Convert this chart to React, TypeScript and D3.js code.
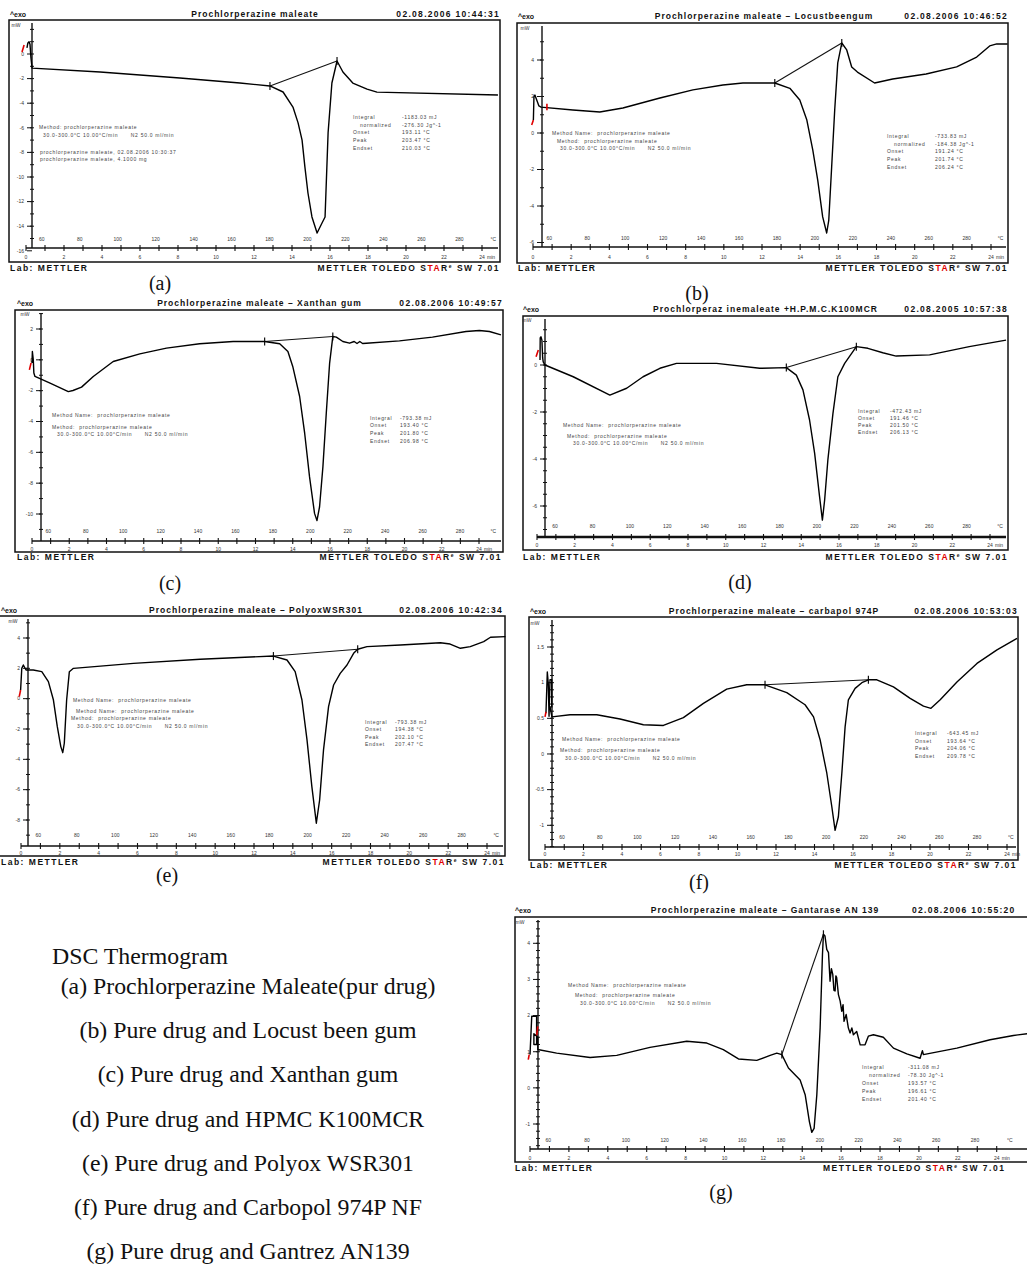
import React from "react";
import * as d3 from "d3";

type P = [number, number];

// ---------------- DATA (time in min, heat flow in mW) ----------------
const panelTags = ["(a)", "(b)", "(c)", "(d)", "(e)", "(f)", "(g)"];
const panelTitles = [
  "Prochlorperazine maleate",
  "Prochlorperazine maleate \u2013 Locustbeengum",
  "Prochlorperazine maleate \u2013 Xanthan gum",
  "Prochlorperaz inemaleate +H.P.M.C.K100MCR",
  "Prochlorperazine maleate \u2013 PolyoxWSR301",
  "Prochlorperazine maleate \u2013 carbapol 974P",
  "Prochlorperazine maleate \u2013 Gantarase AN 139",
];
const panelDates = [
  "02.08.2006 10:44:31",
  "02.08.2006 10:46:52",
  "02.08.2006 10:49:57",
  "02.08.2005 10:57:38",
  "02.08.2006 10:42:34",
  "02.08.2006 10:53:03",
  "02.08.2006 10:55:20",
];

const tempLabels = [60, 80, 100, 120, 140, 160, 180, 200, 220, 240, 260, 280];
const timeLabels = [0, 2, 4, 6, 8, 10, 12, 14, 16, 18, 20, 22, 24];

const yTicksA = [0, -2, -4, -6, -8, -10, -12, -14, -16];
const yTicksB = [4, 2, 0, -2, -4, -6];
const yTicksC = [2, 0, -2, -4, -6, -8, -10];
const yTicksD = [0, -2, -4, -6];
const yTicksE = [4, 2, 0, -2, -4, -6, -8];
const yTicksF = [1.5, 1, 0.5, 0, -0.5, -1];
const yTicksG = [4, 3, 2, 1, 0, -1];

const curveA: P[] = [
  [0.05, 0.5], [0.1, 0.9], [0.16, 1.0], [0.21, 0.8], [0.26, -0.3], [0.32, -1.15],
  [3.9, -1.46], [8.1, -1.95], [11.26, -2.36], [12.84, -2.6], [13.53, -3.09],
  [14.05, -4.31], [14.32, -5.6], [14.53, -7.0], [14.68, -9.2], [14.84, -11.3],
  [15.05, -13.25], [15.32, -14.55], [15.58, -13.74], [15.74, -13.25], [15.9, -6.4],
  [16.1, -2.36], [16.37, -0.57], [16.68, -1.46], [17.2, -2.36], [17.95, -2.85],
  [18.47, -3.1], [24.84, -3.33],
];
const redA: P[] = [[-0.21, 0.16], [-0.1, 0.73]];
const integA: P[] = [[12.84, -2.6], [16.37, -0.57]];

const curveB: P[] = [
  [0.02, 0.71], [0.05, 2.0], [0.1, 2.08], [0.2, 1.8], [0.31, 1.48], [0.42, 1.42],
  [2.09, 1.26], [3.5, 1.15], [4.71, 1.37], [6.65, 1.92], [8.38, 2.36], [9.95, 2.63],
  [11.0, 2.74], [12.67, 2.74], [13.46, 2.45], [13.98, 1.81], [14.35, 0.71],
  [14.66, -0.93], [14.92, -2.58], [15.18, -4.6], [15.39, -5.48], [15.5, -4.77],
  [15.65, -1.86], [15.81, 1.26], [15.97, 3.84], [16.18, 4.93], [16.44, 4.55],
  [16.7, 3.62], [17.0, 3.34], [17.9, 2.74], [18.85, 2.96], [20.6, 3.23], [22.2, 3.62],
  [23.25, 4.16], [23.93, 4.77], [24.3, 4.88], [24.87, 4.88],
];
const redB: P[] = [[-0.07, 0.44], [0.02, 0.71]];
const redB2: P[] = [[0.73, 1.25], [0.73, 1.6]];
const integB: P[] = [[12.67, 2.74], [16.18, 4.93]];

const curveC: P[] = [
  [0, -0.21], [0.02, 0.54], [0.07, 0], [0.1, -0.86], [0.16, -1.08], [0.97, -1.51],
  [1.95, -2.06], [2.2, -1.99], [2.66, -1.77], [3.29, -1.08], [4.36, -0.11],
  [5.79, 0.39], [7.22, 0.76], [9.0, 1.04], [10.8, 1.19], [12.49, 1.19], [13.3, 1.04],
  [13.74, 0.54], [14.0, -0.43], [14.37, -2.38], [14.64, -4.76], [14.9, -7.58],
  [15.17, -9.96], [15.3, -10.43], [15.44, -9.53], [15.62, -6.93], [15.8, -3.46],
  [15.98, -0.21], [16.15, 1.51], [16.34, 1.47], [16.69, 1.19], [17.05, 1.08],
  [17.3, 1.19], [17.45, 1.06], [17.6, 1.19], [17.75, 1.06], [17.95, 1.08],
  [19.73, 1.23], [21.5, 1.47], [23.3, 1.84], [24.02, 1.9], [24.56, 1.84], [25.18, 1.62],
];
const redC: P[] = [[-0.14, -0.65], [-0.05, -0.2]];
const integC: P[] = [[12.49, 1.19], [16.15, 1.51]];

const curveD: P[] = [
  [0.16, 0.21], [0.17, 1.15], [0.21, 1.2], [0.26, 1.06], [0.3, 0.3], [0.33, 0.13],
  [0.42, 0], [1.92, -0.5], [3.86, -1.28], [4.75, -0.99], [5.62, -0.5], [6.51, -0.14],
  [7.39, 0.07], [9.51, 0.07], [11.8, -0.14], [13.21, -0.11], [13.74, -0.43],
  [14.09, -1.06], [14.44, -2.34], [14.71, -3.76], [14.97, -5.6], [15.12, -6.6],
  [15.24, -5.74], [15.41, -4.04], [15.68, -2.06], [15.94, -0.5], [16.3, 0.07],
  [16.92, 0.78], [17.53, 0.71], [18.32, 0.52], [19.03, 0.38], [20.8, 0.43],
  [22.9, 0.78], [24.85, 1.06],
];
const redD: P[] = [[-0.05, 0.35], [0.07, 0.64]];
const integD: P[] = [[13.21, -0.11], [16.92, 0.78]];

const curveE: P[] = [
  [-0.02, 0.57], [0.04, 2.0], [0.12, 2.22], [0.26, 1.89], [0.63, 1.89], [1.07, 1.78],
  [1.41, 1.12], [1.67, -0.09], [1.87, -1.85], [2.05, -3.16], [2.15, -3.56],
  [2.23, -2.94], [2.35, -0.09], [2.49, 1.78], [2.7, 2.0], [5.79, 2.33], [9.23, 2.6],
  [13.0, 2.81], [13.7, 2.55], [14.12, 1.78], [14.47, -0.09], [14.73, -2.72],
  [14.98, -5.8], [15.21, -8.21], [15.38, -6.68], [15.58, -3.38], [15.84, -0.53],
  [16.1, 0.9], [16.44, 1.67], [16.79, 2.22], [17.13, 2.99], [17.34, 3.26],
  [17.82, 3.43], [19.54, 3.54], [21.6, 3.69], [22.1, 3.6], [22.63, 3.32],
  [23.14, 3.43], [23.83, 3.76], [24.18, 4.05], [24.95, 4.09],
];
const redE: P[] = [[-0.09, 0.13], [-0.02, 0.57]];
const integE: P[] = [[13.0, 2.81], [17.34, 3.26]];

const curveF: P[] = [
  [0.05, 0.57], [0.12, 1.15], [0.17, 0.99], [0.21, 0.53], [0.26, 1.04], [0.35, 1.04],
  [0.35, 0.66], [0.26, 0.66], [0.36, 0.52], [1.3, 0.55], [2.69, 0.55], [3.9, 0.49],
  [5.11, 0.41], [6.15, 0.4], [7.19, 0.51], [8.23, 0.71], [9.44, 0.91], [10.48, 0.97],
  [11.43, 0.97], [12.56, 0.86], [13.51, 0.69], [13.95, 0.52], [14.29, 0.2],
  [14.64, -0.27], [14.9, -0.74], [15.07, -1.07], [15.24, -0.88], [15.42, -0.27],
  [15.59, 0.38], [15.76, 0.76], [16.11, 0.92], [16.46, 1.0], [16.8, 1.04],
  [17.24, 1.04], [18.1, 0.94], [18.97, 0.78], [19.66, 0.67], [20.05, 0.64],
  [20.53, 0.76], [21.4, 1.01], [22.44, 1.27], [23.48, 1.46], [24.52, 1.62],
];
const redF: P[] = [[0, 0.52], [0.05, 0.59]];
const integF: P[] = [[11.43, 0.97], [16.8, 1.04]];

const curveG: P[] = [
  [0, 0.92], [0.09, 1.98], [0.34, 1.98], [0.34, 1.2], [0.2, 1.2], [0.2, 1.5],
  [0.4, 1.4], [0.4, 1.06], [1.37, 0.96], [3.09, 0.84], [4.46, 0.9], [6.17, 1.12],
  [8.06, 1.29], [9.09, 1.24], [9.94, 1.06], [10.72, 0.8], [11.66, 0.76], [12.35, 0.9],
  [12.69, 0.96], [12.95, 0.92], [13.29, 0.55], [13.89, 0.22], [14.15, -0.19],
  [14.37, -0.94], [14.49, -1.23], [14.61, -1.12], [14.75, -0.19], [14.92, 1.66],
  [15.04, 3.69], [15.09, 4.25], [15.17, 4.2], [15.26, 3.83], [15.35, 3.74],
  [15.43, 2.95], [15.5, 3.3], [15.57, 3.14], [15.63, 2.7], [15.69, 2.68],
  [15.73, 3.1], [15.77, 3.05], [15.86, 2.58], [15.95, 2.4], [16.03, 2.12],
  [16.1, 2.3], [16.15, 1.84], [16.26, 2.03], [16.37, 1.66], [16.46, 1.52],
  [16.55, 1.66], [16.63, 1.47], [16.8, 1.56], [16.98, 1.19], [17.23, 1.19],
  [17.4, 1.43], [17.66, 1.47], [18.17, 1.4], [18.69, 1.1], [19.38, 0.94],
  [20.06, 0.82], [20.18, 1.03], [20.23, 0.92], [21.95, 1.1], [23.66, 1.33],
  [24.86, 1.45], [25.6, 1.5],
];
const redG: P[] = [[-0.09, 0.78], [-0.04, 0.92]];
const redG2: P[] = [[0.34, 1.45], [0.4, 1.7]];
const integG: P[] = [[12.95, 0.92], [15.09, 4.25]];

const methodA = [
  "Method: prochlorperazine maleate",
  "30.0-300.0\u00b0C 10.00\u00b0C/min      N2 50.0 ml/min",
  "prochlorperazine maleate, 02.08.2006 10:30:37",
  "prochlorperazine maleate, 4.1000 mg",
];
const methodStd = [
  "Method Name:  prochlorperazine maleate",
  "Method:  prochlorperazine maleate",
  "30.0-300.0\u00b0C 10.00\u00b0C/min      N2 50.0 ml/min",
];
const methodE = [
  "Method Name:  prochlorperazine maleate",
  "Method Name:  prochlorperazine maleate",
  "Method:  prochlorperazine maleate",
  "30.0-300.0\u00b0C 10.00\u00b0C/min      N2 50.0 ml/min",
];

const resultsA = [["Integral", "-1183.03 mJ"], [" normalized", "-276.30 Jg^-1"], ["Onset", "193.11 \u00b0C"], ["Peak", "203.47 \u00b0C"], ["Endset", "210.03 \u00b0C"]];
const resultsB = [["Integral", "-733.83 mJ"], [" normalized", "-184.38 Jg^-1"], ["Onset", "191.24 \u00b0C"], ["Peak", "201.74 \u00b0C"], ["Endset", "206.24 \u00b0C"]];
const resultsC = [["Integral", "-793.38 mJ"], ["Onset", "193.40 \u00b0C"], ["Peak", "201.80 \u00b0C"], ["Endset", "206.98 \u00b0C"]];
const resultsD = [["Integral", "-472.43 mJ"], ["Onset", "191.46 \u00b0C"], ["Peak", "201.50 \u00b0C"], ["Endset", "206.13 \u00b0C"]];
const resultsE = [["Integral", "-793.38 mJ"], ["Onset", "194.38 \u00b0C"], ["Peak", "202.10 \u00b0C"], ["Endset", "207.47 \u00b0C"]];
const resultsF = [["Integral", "-643.45 mJ"], ["Onset", "193.64 \u00b0C"], ["Peak", "204.06 \u00b0C"], ["Endset", "209.78 \u00b0C"]];
const resultsG = [["Integral", "-311.08 mJ"], [" normalized", "-78.30 Jg^-1"], ["Onset", "193.57 \u00b0C"], ["Peak", "196.61 \u00b0C"], ["Endset", "201.40 \u00b0C"]];

const legendTitle = "DSC Thermogram";
const legendItems = [
  "(a) Prochlorperazine Maleate(pur drug)",
  "(b) Pure drug and Locust been gum",
  "(c) Pure drug and Xanthan gum",
  "(d) Pure drug and HPMC K100MCR",
  "(e) Pure drug and Polyox WSR301",
  "(f) Pure drug and Carbopol 974P NF",
  "(g) Pure drug and Gantrez AN139",
];

// ---------------- LAYOUT ----------------
const FONT = "'Liberation Sans', Arial, sans-serif";
const SERIF = "'Liberation Serif', 'Times New Roman', serif";

const layouts: any[] = [
  { frame: [9, 20, 500, 262], yAxisX: 32, yAxisTop: 23, xAxisY: 248, tRange: [26, 482], vDomain: [0, -16], vRange: [54, 250.8], minor: 1,
    tempRange: [41.7, 459.3], tempY: 239, timeY: 257, mW: [16, 25], title: [255, 14], date: [500, 14], exo: [10, 14],
    lab: [10, 268], mettler: [500, 268], tag: [160, 283],
    method: [[39, 127], [43, 135], [40, 152], [40, 159]], res: { lx: 353, vx: 402, y0: 117, dy: 7.8 } },
  { frame: [517, 23, 1008, 263], yAxisX: 542, yAxisTop: 26, xAxisY: 247, tRange: [533, 991], vDomain: [0, -6], vRange: [133, 242.5], minor: 1,
    tempRange: [549.3, 966.7], tempY: 238, timeY: 257, mW: [525, 28], title: [764, 16], date: [1008, 16], exo: [518, 16],
    lab: [518, 268], mettler: [1008, 268], tag: [697, 293],
    method: [[552, 133], [557, 141], [560, 148]], res: { lx: 887, vx: 935, y0: 136, dy: 7.7 } },
  { frame: [15, 310, 503, 552], yAxisX: 41, yAxisTop: 313, xAxisY: 541, tRange: [32, 479], vDomain: [2, -10], vRange: [329, 514], minor: 1,
    tempRange: [48.3, 460], tempY: 531, timeY: 549, mW: [25, 314], title: [259.5, 303], date: [503, 303], exo: [17, 303],
    lab: [17, 557], mettler: [502, 557], tag: [170, 583],
    method: [[52, 415], [52, 427], [57, 434]], res: { lx: 370, vx: 400, y0: 418, dy: 7.6 } },
  { frame: [523, 316, 1008, 550], yAxisX: 545, yAxisTop: 319, xAxisY: 537, tRange: [537, 990], vDomain: [0, -6], vRange: [365, 506], minor: 0.5,
    tempRange: [555, 966.7], tempY: 526, timeY: 545, mW: [527, 320], title: [765.5, 309], date: [1008, 309], exo: [523, 309],
    lab: [523, 557], mettler: [1008, 557], tag: [740, 582], thick: true,
    method: [[563, 425], [567, 436], [573, 443]], res: { lx: 858, vx: 890, y0: 411, dy: 7 } },
  { frame: [-1, 616, 505, 856], yAxisX: 28, yAxisTop: 619, xAxisY: 846, tRange: [21, 487], vDomain: [4, -8], vRange: [638, 820], minor: 1,
    tempRange: [38.3, 461.7], tempY: 835, timeY: 853, mW: [13, 621], title: [256, 610], date: [503, 610], exo: [1, 610],
    lab: [1, 862], mettler: [505, 862], tag: [167, 875],
    method: [[73, 700], [76, 711], [71, 718], [77, 726]], res: { lx: 365, vx: 395, y0: 722, dy: 7.4 } },
  { frame: [529, 617, 1018, 860], yAxisX: 552, yAxisTop: 620, xAxisY: 847, tRange: [545, 1007], vDomain: [1.5, -1], vRange: [647, 825.3], minor: 0.1,
    tempRange: [562, 977], tempY: 837, timeY: 854, mW: [535, 623], title: [774, 611], date: [1018, 611], exo: [530, 611],
    lab: [530, 865], mettler: [1017, 865], tag: [699, 882],
    method: [[562, 739], [560, 750], [565, 758]], res: { lx: 915, vx: 947, y0: 733, dy: 7.7 } },
  { frame: [515, 917, 1040, 1162], yAxisX: 538, yAxisTop: 920, xAxisY: 1149, tRange: [530, 996.7], vDomain: [4, -1], vRange: [943.3, 1124], minor: 0.2,
    tempRange: [548.3, 975], tempY: 1140, timeY: 1158, mW: [520, 922], title: [765, 910], date: [912, 910], dateAnchor: "start", exo: [515, 910],
    lab: [515, 1168], mettler: [823, 1168], mettlerAnchor: "start", tag: [721, 1192],
    method: [[568, 985], [575, 995], [580, 1003]], res: { lx: 862, vx: 908, y0: 1067, dy: 8 } },
];

const legendLayout = { titleX: 52, titleY: 964, cx: 248, y0: 994, dy: 44.2, size: 23.8 };

// ---------------- COMPONENTS ----------------
type PanelProps = {
  L: any; curve: P[]; reds: P[][]; integ: P[]; yTicks: number[];
  title: string; date: string; tag: string; method: string[]; results: string[][];
};

function Panel({ L, curve, reds, integ, yTicks, title, date, tag, method, results }: PanelProps) {
  const x = d3.scaleLinear().domain([0, 24]).range(L.tRange);
  const y = d3.scaleLinear().domain(L.vDomain).range(L.vRange);
  const tx = d3.scaleLinear().domain([60, 280]).range(L.tempRange);
  const line = d3.line<P>().x((p) => x(p[0])).y((p) => y(p[1]));
  const [fx0, fy0, fx1, fy1] = L.frame;
  const vBottom = y.invert(L.xAxisY);
  const vTop = y.invert(L.yAxisTop);
  const st = L.minor;
  const minorTicks = d3
    .range(Math.ceil(vBottom / st - 1e-6), Math.floor(vTop / st + 1e-6) + 1)
    .map((k) => k * st);
  const minutes = d3.range(0, 25);
  const small: any = { fontFamily: FONT, fontSize: 5, fill: "#333" };
  const tiny: any = { fontFamily: FONT, fontSize: 5, fill: "#444", letterSpacing: 0.7 };
  const head: any = { fontFamily: FONT, fontSize: 8.5, fontWeight: "bold", fill: "#111" };
  const ink = "#111";

  return (
    <g>
      <rect x={fx0} y={fy0} width={fx1 - fx0} height={fy1 - fy0} fill="none" stroke={ink} strokeWidth={1.5} />
      <text x={L.exo[0]} y={L.exo[1] + 3} {...head} fontSize={7}>^exo</text>
      <text x={L.title[0]} y={L.title[1] + 3} textAnchor="middle" {...head} letterSpacing={1}>{title}</text>
      <text x={L.date[0]} y={L.date[1] + 3} textAnchor={L.dateAnchor || "end"} {...head} letterSpacing={1.3}>{date}</text>

      {/* y axis */}
      <line x1={L.yAxisX} x2={L.yAxisX} y1={L.yAxisTop} y2={L.xAxisY} stroke={ink} strokeWidth={1.4} />
      {minorTicks.map((v, i) => (
        <line key={"m" + i} x1={L.yAxisX - 2} x2={L.yAxisX + 2} y1={y(v)} y2={y(v)} stroke={ink} strokeWidth={1} />
      ))}
      {yTicks.map((v, i) => (
        <g key={"y" + i}>
          <line x1={L.yAxisX - 5} x2={L.yAxisX} y1={y(v)} y2={y(v)} stroke={ink} strokeWidth={1} />
          <text x={L.yAxisX - 8} y={y(v) + 1.8} textAnchor="end" {...small}>{String(v)}</text>
        </g>
      ))}
      <text x={L.mW[0]} y={L.mW[1] + 1.8} textAnchor="middle" {...small}>mW</text>

      {/* x (time) axis */}
      <line x1={x(0)} x2={fx1 - 2} y1={L.xAxisY} y2={L.xAxisY} stroke={ink} strokeWidth={L.thick ? 2.4 : 1.4} />
      {minutes.map((m) => (
        <line key={"t" + m} x1={x(m)} x2={x(m)} y1={L.xAxisY - 3} y2={L.xAxisY + 3} stroke={ink} strokeWidth={1.1} />
      ))}
      {timeLabels.map((m) => (
        <text key={"tl" + m} x={x(m)} y={L.timeY + 1.8} textAnchor="middle" {...small}>{String(m)}</text>
      ))}
      <text x={x(24) + 5} y={L.timeY + 1.8} {...small}>min</text>
      {tempLabels.map((T) => (
        <text key={"T" + T} x={tx(T)} y={L.tempY + 1.8} textAnchor="middle" {...small}>{String(T)}</text>
      ))}
      <text x={tx(300) - 4} y={L.tempY + 1.8} textAnchor="middle" {...small}>°C</text>

      {/* integration baseline */}
      <path d={line(integ) || ""} fill="none" stroke={ink} strokeWidth={1.1} />
      {integ.map((p, i) => (
        <line key={"ig" + i} x1={x(p[0])} x2={x(p[0])} y1={y(p[1]) - 4} y2={y(p[1]) + 4} stroke={ink} strokeWidth={1.2} />
      ))}
      {/* DSC curve */}
      <path d={line(curve) || ""} fill="none" stroke="#000" strokeWidth={1.4} strokeLinejoin="round" />
      {reds.map((r, i) => (
        <path key={"r" + i} d={line(r) || ""} fill="none" stroke="#e00000" strokeWidth={1.6} />
      ))}

      {/* method text */}
      {method.map((s, i) => (
        <text key={"mt" + i} x={L.method[i][0]} y={L.method[i][1] + 1.8} {...tiny} style={{ whiteSpace: "pre" }}>{s}</text>
      ))}
      {results.map((r, i) => (
        <g key={"rs" + i}>
          <text x={L.res.lx + (r[0].startsWith(" ") ? 7 : 0)} y={L.res.y0 + i * L.res.dy + 1.8} {...tiny}>{r[0].trim()}</text>
          <text x={L.res.vx} y={L.res.y0 + i * L.res.dy + 1.8} {...tiny}>{r[1]}</text>
        </g>
      ))}

      {/* footer */}
      <text x={L.lab[0]} y={L.lab[1] + 3} {...head} letterSpacing={1.5}>Lab: METTLER</text>
      <text x={L.mettler[0]} y={L.mettler[1] + 3} textAnchor={L.mettlerAnchor || "end"} {...head} letterSpacing={1.5}>
        METTLER TOLEDO S<tspan fill="#e00000">TA</tspan>R<tspan fontSize={5} dy={-3}>e</tspan>
        <tspan dy={3}> SW 7.01</tspan>
      </text>
      <text x={L.tag[0]} y={L.tag[1] + 7} textAnchor="middle" fontFamily={SERIF} fontSize={20} fill="#111">{tag}</text>
    </g>
  );
}

export default function App() {
  const panels = [
    { curve: curveA, reds: [redA], integ: integA, yTicks: yTicksA, method: methodA, results: resultsA },
    { curve: curveB, reds: [redB, redB2], integ: integB, yTicks: yTicksB, method: methodStd, results: resultsB },
    { curve: curveC, reds: [redC], integ: integC, yTicks: yTicksC, method: methodStd, results: resultsC },
    { curve: curveD, reds: [redD], integ: integD, yTicks: yTicksD, method: methodStd, results: resultsD },
    { curve: curveE, reds: [redE], integ: integE, yTicks: yTicksE, method: methodE, results: resultsE },
    { curve: curveF, reds: [redF], integ: integF, yTicks: yTicksF, method: methodStd, results: resultsF },
    { curve: curveG, reds: [redG, redG2], integ: integG, yTicks: yTicksG, method: methodStd, results: resultsG },
  ];
  return (
    <svg
      width={1027}
      height={1266}
      viewBox="0 0 1027 1266"
      style={{ position: "absolute", left: 0, top: 0, background: "#fff" }}
    >
      <rect x={0} y={0} width={1027} height={1266} fill="#fff" />
      {panels.map((p, i) => (
        <Panel
          key={i}
          L={layouts[i]}
          curve={p.curve}
          reds={p.reds}
          integ={p.integ}
          yTicks={p.yTicks}
          title={panelTitles[i]}
          date={panelDates[i]}
          tag={panelTags[i]}
          method={p.method}
          results={p.results}
        />
      ))}
      <text x={legendLayout.titleX} y={legendLayout.titleY} fontFamily={SERIF} fontSize={legendLayout.size} fill="#111">
        {legendTitle}
      </text>
      {legendItems.map((s, i) => (
        <text
          key={"lg" + i}
          x={legendLayout.cx}
          y={legendLayout.y0 + i * legendLayout.dy}
          textAnchor="middle"
          fontFamily={SERIF}
          fontSize={legendLayout.size}
          fill="#111"
        >
          {s}
        </text>
      ))}
    </svg>
  );
}
